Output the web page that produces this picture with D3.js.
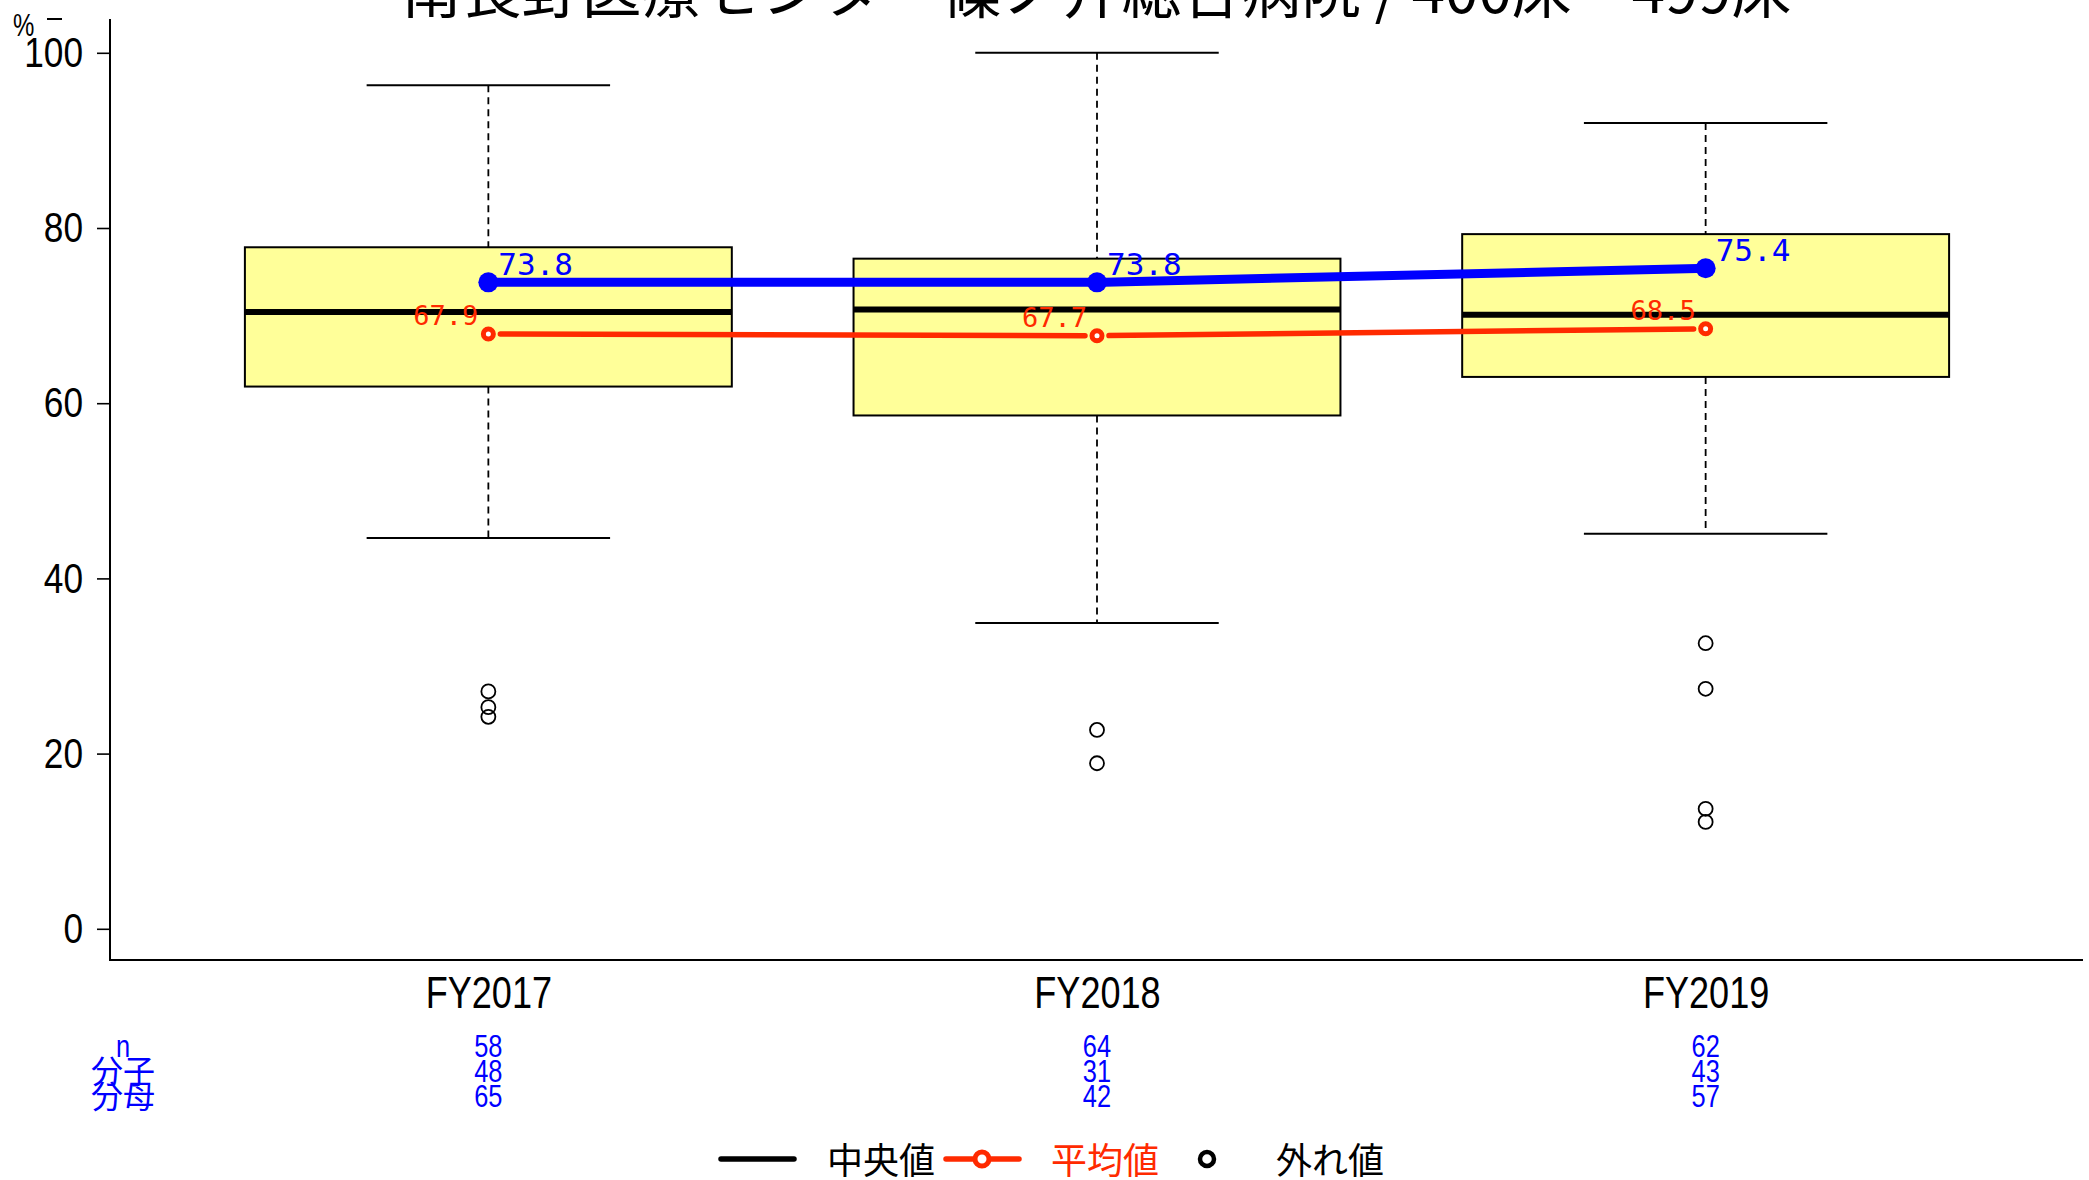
<!DOCTYPE html>
<html>
<head>
<meta charset="utf-8">
<script src="https://cdn.jsdelivr.net/npm/d3@7"></script>
<style>
    body { margin: 0; background: #fff; }
    svg { display: block; }
    .narrow { font-family: "Liberation Sans", Arial, sans-serif; }
    .cjk { font-family: "Noto Sans CJK JP", "Noto Sans", sans-serif; }
    .mono { font-family: "DejaVu Sans Mono", monospace; }
</style>
</head>
<body>
<svg id="chart"></svg>
<script>
// values
const titleText = "南長野医療センター篠ノ井総合病院 / 400床～499床";
const categories = ["FY2017", "FY2018", "FY2019"];
const whiskerHigh = [96.3, 100.0, 92.0];
const q3 = [77.8, 76.5, 79.3];
const medians = [70.4, 70.7, 70.1];
const q1 = [61.9, 58.6, 63.0];
const whiskerLow = [44.6, 34.9, 45.1];
const outliers = [[27.1, 25.3, 24.2], [22.7, 18.9], [32.6, 27.4, 13.7, 12.2]];
const hospitalRate = [73.8, 73.8, 75.4];
const averages = [67.9, 67.7, 68.5];
const yTicks = [0, 20, 40, 60, 80, 100];
const rowLabels = ["n", "分子", "分母"];
const nValues = [58, 64, 62];
const numerators = [48, 31, 43];
const denominators = [65, 42, 57];
const legendLabels = ["中央値", "平均値", "外れ値"];

// squeeze latin text horizontally around its anchor (narrow font look)
function squeeze(sel, k) {
    sel.attr("transform", function () {
        const x = +this.getAttribute("x") || 0;
        return `translate(${x},0) scale(${k},1) translate(${-x},0)`;
    });
}

class BoxTrend {
    constructor(_config) {
        this.config = {
            parentElement: _config.parentElement,
            containerWidth: _config.containerWidth || 2089,
            containerHeight: _config.containerHeight || 1180,
            plot: { left: 110, right: 2083, top: 19, bottom: 960 },
            squeeze: 0.82,
        };
        this.initVis();
    }

    initVis() {
        let vis = this;
        const p = vis.config.plot;

        vis.svg = d3
            .select(vis.config.parentElement)
            .attr("width", vis.config.containerWidth)
            .attr("height", vis.config.containerHeight);

        // R style: xlim 0.5..3.5 with 4% extension
        vis.x = d3.scaleLinear().domain([0.38, 3.62]).range([p.left + 1, p.right]);
        vis.y = d3.scaleLinear().domain([0, 100]).range([928.8, 52.8]);

        vis.renderVis();
    }

    renderVis() {
        let vis = this;
        const p = vis.config.plot;
        const k = vis.config.squeeze;
        const x = (i) => vis.x(i + 1);
        const y = vis.y;
        const halfBox = vis.x(1.4) - vis.x(1);
        const halfCap = vis.x(1.2) - vis.x(1);

        // title (mostly above the visible area)
        vis.svg.append("text")
            .attr("class", "cjk")
            .attr("x", (p.left + p.right) / 2)
            .attr("y", 13)
            .attr("text-anchor", "middle")
            .attr("font-size", 60)
            .attr("fill", "#000")
            .text(titleText);

        // y axis
        const yAxis = d3.axisLeft(y).tickValues(yTicks).tickSize(13).tickPadding(14).tickSizeOuter(0);
        const yAxisG = vis.svg.append("g")
            .attr("transform", `translate(${p.left},0)`)
            .call(yAxis);
        yAxisG.select(".domain").remove();
        yAxisG.selectAll(".tick line").attr("stroke", "#000").attr("stroke-width", 1.6);
        yAxisG.selectAll(".tick text")
            .attr("class", "narrow")
            .attr("font-size", 43)
            .attr("fill", "#000")
            .call(squeeze, k);

        // x axis labels, no ticks
        const xAxis = d3.axisBottom(vis.x)
            .tickValues([1, 2, 3])
            .tickFormat((d) => categories[d - 1])
            .tickSize(0)
            .tickPadding(17);
        const xAxisG = vis.svg.append("g")
            .attr("transform", `translate(0,${p.bottom})`)
            .call(xAxis);
        xAxisG.select(".domain").remove();
        xAxisG.selectAll(".tick text")
            .attr("class", "narrow")
            .attr("font-size", 44)
            .attr("fill", "#000")
            .call(squeeze, k);

        // bty = "l"
        vis.svg.append("path")
            .attr("d", `M${p.left},${p.top}V${p.bottom}H${p.right}`)
            .attr("fill", "none")
            .attr("stroke", "#000")
            .attr("stroke-width", 2);

        vis.svg.append("text").attr("class", "narrow")
            .attr("x", 13).attr("y", 36)
            .attr("font-size", 32)
            .text("%")
            .call(squeeze, 0.75);
        vis.svg.append("line")
            .attr("x1", 47).attr("x2", 62).attr("y1", 19).attr("y2", 19)
            .attr("stroke", "#000").attr("stroke-width", 2);

        // boxes
        const boxes = vis.svg.append("g")
            .selectAll("g")
            .data(categories)
            .join("g");

        boxes.append("line")
            .attr("x1", (d, i) => x(i)).attr("x2", (d, i) => x(i))
            .attr("y1", (d, i) => y(whiskerHigh[i])).attr("y2", (d, i) => y(q3[i]))
            .attr("stroke", "#000").attr("stroke-width", 1.8).attr("stroke-dasharray", "7,5");
        boxes.append("line")
            .attr("x1", (d, i) => x(i)).attr("x2", (d, i) => x(i))
            .attr("y1", (d, i) => y(q1[i])).attr("y2", (d, i) => y(whiskerLow[i]))
            .attr("stroke", "#000").attr("stroke-width", 1.8).attr("stroke-dasharray", "7,5");
        boxes.append("line")
            .attr("x1", (d, i) => x(i) - halfCap).attr("x2", (d, i) => x(i) + halfCap)
            .attr("y1", (d, i) => y(whiskerHigh[i])).attr("y2", (d, i) => y(whiskerHigh[i]))
            .attr("stroke", "#000").attr("stroke-width", 2);
        boxes.append("line")
            .attr("x1", (d, i) => x(i) - halfCap).attr("x2", (d, i) => x(i) + halfCap)
            .attr("y1", (d, i) => y(whiskerLow[i])).attr("y2", (d, i) => y(whiskerLow[i]))
            .attr("stroke", "#000").attr("stroke-width", 2);
        boxes.append("rect")
            .attr("x", (d, i) => x(i) - halfBox)
            .attr("width", halfBox * 2)
            .attr("y", (d, i) => y(q3[i]))
            .attr("height", (d, i) => y(q1[i]) - y(q3[i]))
            .attr("fill", "#ffff99")
            .attr("stroke", "#000")
            .attr("stroke-width", 2);
        boxes.append("line")
            .attr("x1", (d, i) => x(i) - halfBox).attr("x2", (d, i) => x(i) + halfBox)
            .attr("y1", (d, i) => y(medians[i])).attr("y2", (d, i) => y(medians[i]))
            .attr("stroke", "#000").attr("stroke-width", 6);

        boxes.selectAll("circle.out")
            .data((d, i) => outliers[i].map((v) => ({ i, v })))
            .join("circle")
            .attr("class", "out")
            .attr("cx", (d) => x(d.i))
            .attr("cy", (d) => y(d.v))
            .attr("r", 7)
            .attr("fill", "none")
            .attr("stroke", "#000")
            .attr("stroke-width", 1.8);

        // lines with gaps around points (type = "b")
        const segs = (vals, gap) => d3.range(vals.length - 1).map((i) => {
            const x0 = x(i), x1 = x(i + 1), y0 = y(vals[i]), y1 = y(vals[i + 1]);
            const len = Math.hypot(x1 - x0, y1 - y0);
            const ux = (x1 - x0) / len, uy = (y1 - y0) / len;
            return [x0 + ux * gap, y0 + uy * gap, x1 - ux * gap, y1 - uy * gap];
        });

        vis.svg.append("g").selectAll("line")
            .data(segs(averages, 12))
            .join("line")
            .attr("x1", (d) => d[0]).attr("y1", (d) => d[1])
            .attr("x2", (d) => d[2]).attr("y2", (d) => d[3])
            .attr("stroke", "#ff2a00").attr("stroke-width", 5.5).attr("stroke-linecap", "round");
        vis.svg.append("g").selectAll("circle")
            .data(averages)
            .join("circle")
            .attr("cx", (d, i) => x(i)).attr("cy", (d) => y(d))
            .attr("r", 5).attr("fill", "#fff")
            .attr("stroke", "#ff2a00").attr("stroke-width", 5);
        vis.svg.append("g").selectAll("text")
            .data(averages)
            .join("text")
            .attr("class", "mono")
            .attr("x", (d, i) => x(i) - 10).attr("y", (d) => y(d) - 9)
            .attr("text-anchor", "end")
            .attr("font-size", 27)
            .attr("fill", "#ff2a00")
            .text((d) => d.toFixed(1));

        vis.svg.append("g").selectAll("line")
            .data(segs(hospitalRate, 8))
            .join("line")
            .attr("x1", (d) => d[0]).attr("y1", (d) => d[1])
            .attr("x2", (d) => d[2]).attr("y2", (d) => d[3])
            .attr("stroke", "#0000ff").attr("stroke-width", 9);
        vis.svg.append("g").selectAll("circle")
            .data(hospitalRate)
            .join("circle")
            .attr("cx", (d, i) => x(i)).attr("cy", (d) => y(d))
            .attr("r", 10).attr("fill", "#0000ff");
        vis.svg.append("g").selectAll("text")
            .data(hospitalRate)
            .join("text")
            .attr("class", "mono")
            .attr("x", (d, i) => x(i) + 10).attr("y", (d) => y(d) - 7)
            .attr("font-size", 31)
            .attr("fill", "#0000ff")
            .text((d) => d.toFixed(1));

        // counts table under the axis
        const rows = [nValues, numerators, denominators];
        const rowBase = [1057, 1082, 1107];
        const table = vis.svg.append("g").attr("fill", "#0000ff");
        rowLabels.forEach((lab, r) => {
            const t = table.append("text")
                .attr("class", r === 0 ? "narrow" : "cjk")
                .attr("x", 123).attr("y", rowBase[r] + (r === 0 ? 0 : 1))
                .attr("text-anchor", "middle")
                .attr("font-size", r === 0 ? 31 : 32)
                .text(lab);
            if (r === 0) t.call(squeeze, k);
            table.selectAll(null)
                .data(rows[r])
                .join("text")
                .attr("class", "narrow")
                .attr("x", (d, i) => x(i)).attr("y", rowBase[r])
                .attr("text-anchor", "middle")
                .attr("font-size", 31)
                .text((d) => d)
                .call(squeeze, k);
        });

        // legend
        const ly = 1159;
        const legend = vis.svg.append("g");
        legend.append("line")
            .attr("x1", 721).attr("x2", 794).attr("y1", ly).attr("y2", ly)
            .attr("stroke", "#000").attr("stroke-width", 5.5).attr("stroke-linecap", "round");
        legend.append("line")
            .attr("x1", 946).attr("x2", 1019).attr("y1", ly).attr("y2", ly)
            .attr("stroke", "#ff2a00").attr("stroke-width", 5.5).attr("stroke-linecap", "round");
        legend.append("circle")
            .attr("cx", 982).attr("cy", ly).attr("r", 7)
            .attr("fill", "#fff").attr("stroke", "#ff2a00").attr("stroke-width", 5);
        legend.append("circle")
            .attr("cx", 1207).attr("cy", ly).attr("r", 7)
            .attr("fill", "none").attr("stroke", "#000").attr("stroke-width", 4.5);
        const legendX = [827, 1051, 1276];
        const legendColor = ["#000", "#ff2a00", "#000"];
        legend.selectAll("text")
            .data(legendLabels)
            .join("text")
            .attr("class", "cjk")
            .attr("x", (d, i) => legendX[i]).attr("y", 1174)
            .attr("font-size", 36)
            .attr("fill", (d, i) => legendColor[i])
            .text((d) => d);
    }
}

new BoxTrend({ parentElement: "#chart" });
</script>
</body>
</html>
